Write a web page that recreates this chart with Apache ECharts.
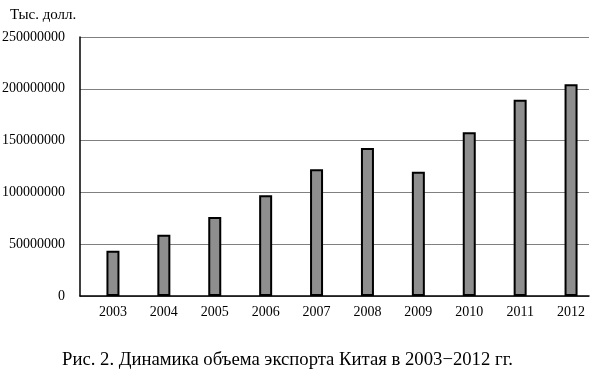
<!DOCTYPE html>
<html>
<head>
<meta charset="utf-8">
<script src="https://cdn.jsdelivr.net/npm/echarts@6/dist/echarts.min.js"></script>
<style>
    html, body { margin: 0; padding: 0; background: #fff; }
    #chart { width: 595px; height: 376px; }
</style>
</head>
<body>
<div id="chart"></div>
<script>
// годы и объём экспорта, тыс. долл.
const years = ['2003', '2004', '2005', '2006', '2007', '2008', '2009', '2010', '2011', '2012'];
const exportValues = [43700000, 59200000, 76300000, 97200000, 122300000, 142900000, 120000000, 158000000, 189500000, 204300000];

const unitLabel = 'Тыс. долл.';
const captionText = 'Рис. 2. Динамика объема экспорта Китая в 2003\u22122012 гг.';

const yMax = 250000000;
const yStep = 50000000;

const font = '"Liberation Serif", "DejaVu Serif", serif';

const chart = echarts.init(document.getElementById('chart'));

// два грида: первый – рамка, сетка и ось Y; второй – столбцы
// (в оригинале столбцы немного смещены вправо относительно оси)
const option = {
    animation: false,
    textStyle: { fontFamily: font },
    title: [
        {
            text: unitLabel,
            left: 5,
            top: 3,
            textStyle: { fontFamily: font, fontSize: 15, fontWeight: 'normal', color: '#000' }
        },
        {
            text: captionText,
            left: 57,
            top: 346,
            textStyle: { fontFamily: font, fontSize: 18.7, fontWeight: 'normal', color: '#000' }
        }
    ],
    grid: [
        { left: 80, width: 509, top: 37, bottom: 80, outerBoundsMode: 'none' },
        { left: 87.5, width: 509, top: 37, bottom: 80, outerBoundsMode: 'none' }
    ],
    xAxis: [
        {
            gridIndex: 0,
            type: 'category',
            data: years,
            axisLine: { lineStyle: { color: '#000', width: 1.5 } },
            axisTick: { show: false },
            axisLabel: { show: false }
        },
        {
            gridIndex: 1,
            type: 'category',
            data: years,
            axisLine: { show: false },
            axisTick: { show: false },
            axisLabel: { color: '#000', fontSize: 14, fontFamily: font, margin: 9 }
        }
    ],
    yAxis: [
        {
            gridIndex: 0,
            type: 'value',
            min: 0,
            max: yMax,
            interval: yStep,
            axisLine: { show: true, lineStyle: { color: '#000', width: 1.5 } },
            axisTick: { show: false },
            axisLabel: {
                color: '#000',
                fontSize: 14,
                fontFamily: font,
                margin: 15,
                formatter: function (v) { return String(v); }
            },
            splitLine: { lineStyle: { color: '#808080', width: 1.2 } }
        },
        {
            gridIndex: 1,
            type: 'value',
            min: 0,
            max: yMax,
            interval: yStep,
            show: false
        }
    ],
    series: [
        {
            type: 'bar',
            xAxisIndex: 1,
            yAxisIndex: 1,
            data: exportValues,
            barWidth: 13,
            itemStyle: {
                color: '#8e8e8e',
                borderColor: '#000',
                borderWidth: 2
            }
        }
    ]
};

chart.setOption(option);
</script>
</body>
</html>
